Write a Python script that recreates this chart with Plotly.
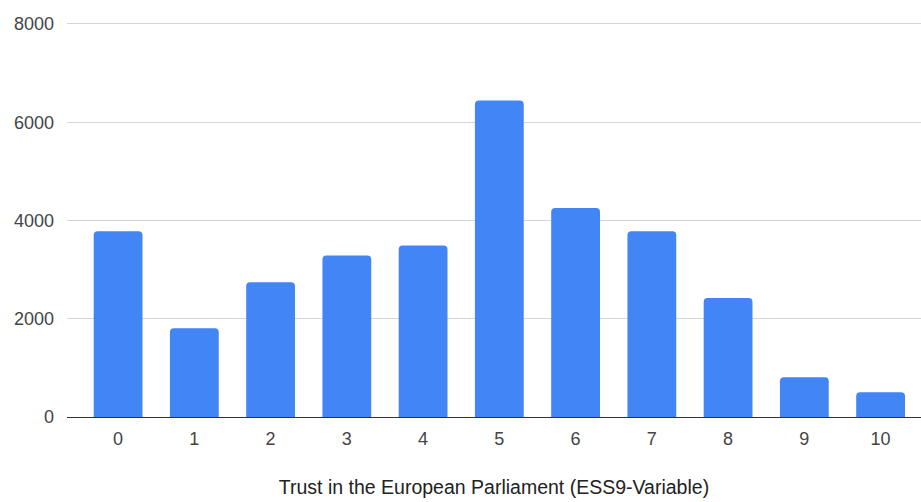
import plotly.graph_objects as go

categories = ["0", "1", "2", "3", "4", "5", "6", "7", "8", "9", "10"]
counts = [3780, 1805, 2740, 3285, 3490, 6440, 4255, 3780, 2420, 810, 505]
y_ticks = [0, 2000, 4000, 6000, 8000]
x_title = "Trust in the European Parliament (ESS9-Variable)"

fig = go.Figure(
    go.Bar(
        x=list(range(len(categories))),
        y=counts,
        marker=dict(color="#4285F4", line=dict(width=0)),
        hoverinfo="x+y",
    )
)

fig.update_layout(
    width=921,
    height=502,
    margin=dict(l=67, r=0, t=19, b=85),
    paper_bgcolor="white",
    plot_bgcolor="white",
    bargap=0.36,
    barcornerradius=4,
    showlegend=False,
    font=dict(family="Liberation Sans, Arial, sans-serif", color="#444444", size=18),
    xaxis=dict(
        tickmode="array",
        tickvals=list(range(len(categories))),
        ticktext=categories,
        range=[-0.67, 10.53],
        showgrid=False,
        showline=True,
        linecolor="#333333",
        linewidth=1,
        ticks="",
        ticklabelstandoff=5,
        title=dict(text=x_title, font=dict(size=19.5, color="#222222"), standoff=32),
        zeroline=False,
    ),
    yaxis=dict(
        range=[0, 8100],
        tickmode="array",
        tickvals=y_ticks,
        ticktext=[str(v) for v in y_ticks],
        showgrid=True,
        gridcolor="#d6d6d6",
        gridwidth=1,
        zeroline=False,
        showline=False,
        ticks="",
        ticklabelstandoff=12,
    ),
)

fig.write_html("out.html")
